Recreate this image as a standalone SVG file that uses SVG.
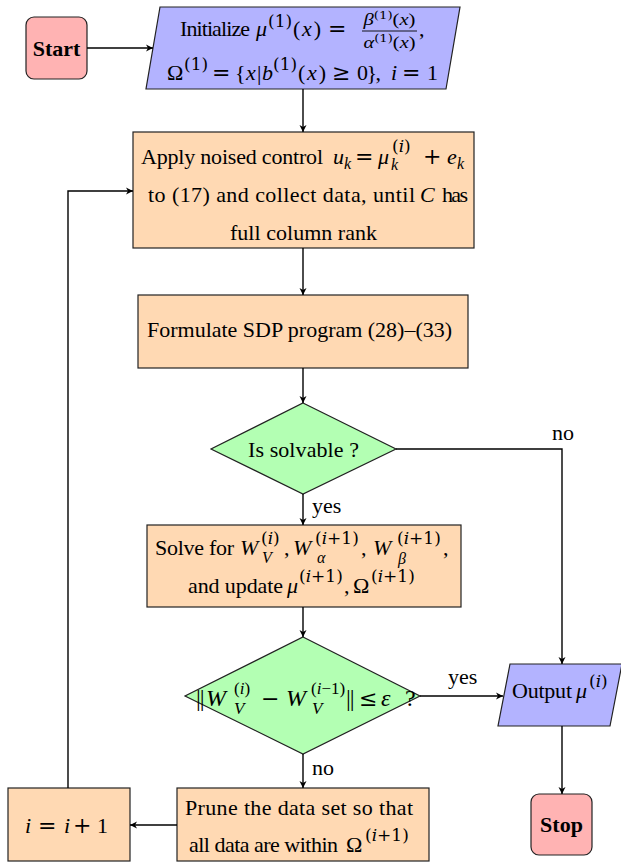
<svg xmlns="http://www.w3.org/2000/svg" width="621" height="863" viewBox="0 0 621 863">
<defs>
<style>
text{font-family:"Liberation Serif","Times New Roman",serif;font-size:22px;fill:#000}
.i{font-style:italic}
.s{font-size:16px}
.sp{font-family:"DejaVu Serif",serif;font-size:17px}
.op{font-family:"DejaVu Serif",serif;font-size:22px}
.f{font-size:17px}
.fs{font-family:"DejaVu Serif",serif;font-size:11px}
.m{font-size:24px}
.ms{font-size:17px}
.b{font-weight:bold}
.node{stroke:#222;stroke-width:1.2}
.start{fill:#FFB3B3}
.io{fill:#B3B3FF}
.proc{fill:#FFD9B3}
.dec{fill:#B3FFB3}
.conn path{fill:none;stroke:#000;stroke-width:1.4}
</style>
<marker id="ah" viewBox="-8 -4 9 8" refX="0" refY="0" markerWidth="9" markerHeight="8" markerUnits="userSpaceOnUse" orient="auto">
<path d="M-7,-3.5 L0,0 L-7,3.5 L-5,0 Z" fill="#000"/>
</marker>
</defs>
<rect width="621" height="863" fill="#fff"/>

<g id="start">
<rect class="node start" x="26" y="17" width="61" height="62" rx="8"/>
<text class="b" x="56.5" y="56" text-anchor="middle">Start</text>
</g>

<g id="init">
<polygon class="node io" points="160,7 460,7 446,89 146,89"/>
<text x="180" y="36" textLength="70">Initialize</text>
<text class="i" x="256" y="36">μ</text>
<text class="sp" x="268" y="27">(1)</text>
<text x="293" y="36" textLength="28">(<tspan class="i">x</tspan>)</text>
<text class="op" x="328" y="36">=</text>
<text class="f" x="389.5" y="25" text-anchor="middle" textLength="52" lengthAdjust="spacingAndGlyphs"><tspan class="i">β</tspan><tspan class="fs" dy="-6">(1)</tspan><tspan dy="6">(<tspan class="i">x</tspan>)</tspan></text>
<line x1="362" y1="31" x2="417" y2="31" stroke="#000" stroke-width="0.9"/>
<text class="f" x="389.5" y="48" text-anchor="middle" textLength="52" lengthAdjust="spacingAndGlyphs"><tspan class="i">α</tspan><tspan class="fs" dy="-6">(1)</tspan><tspan dy="6">(<tspan class="i">x</tspan>)</tspan></text>
<text x="419" y="36">,</text>
<text x="167" y="80">Ω</text>
<text class="sp" x="184" y="70">(1)</text>
<text class="op" x="212" y="80">=</text>
<text x="235" y="80">{</text>
<text class="i" x="246" y="80">x</text>
<text x="257" y="80">|</text>
<text class="i" x="262" y="80">b</text>
<text class="sp" x="273" y="70">(1)</text>
<text x="298" y="80" textLength="28">(<tspan class="i">x</tspan>)</text>
<text class="op" x="332" y="80">≥</text>
<text x="357" y="80" textLength="24">0},</text>
<text class="i" x="391" y="80">i</text>
<text class="op" x="402" y="80">=</text>
<text x="427" y="80">1</text>
</g>

<g id="apply">
<rect class="node proc" x="133" y="132" width="341" height="116"/>
<text x="141" y="164" textLength="182">Apply noised control</text>
<text class="i" x="333" y="164">u</text>
<text class="i s" x="344" y="169">k</text>
<text class="op" x="355" y="164">=</text>
<text class="i" x="378" y="164">μ</text>
<text class="sp" x="392" y="152">(<tspan class="i">i</tspan>)</text>
<text class="i s" x="391" y="170">k</text>
<text class="op" x="423" y="164">+</text>
<text class="i" x="447" y="164">e</text>
<text class="i s" x="457" y="169">k</text>
<text x="148" y="202" textLength="267">to (17) and collect data, until</text>
<text class="i" x="420" y="202">C</text>
<text x="442" y="202" textLength="26">has</text>
<text x="230" y="240" textLength="147">full column rank</text>
</g>

<g id="formulate">
<rect class="node proc" x="138" y="295" width="330" height="73"/>
<text x="147" y="337" textLength="305">Formulate SDP program (28)–(33)</text>
</g>

<g id="solvable">
<polygon class="node dec" points="303,403 396,449 303,494 211,449"/>
<text x="248" y="457" textLength="111">Is solvable ?</text>
</g>

<g id="solve">
<rect class="node proc" x="147" y="525" width="314" height="82"/>
<text x="155" y="555" textLength="79">Solve for</text>
<text class="i" x="240" y="555">W</text>
<text class="sp" x="261" y="544">(<tspan class="i">i</tspan>)</text>
<text class="i s" x="262" y="563">V</text>
<text x="284" y="555">,</text>
<text class="i" x="293" y="555">W</text>
<text class="sp" x="315" y="544">(<tspan class="i">i</tspan>+1)</text>
<text class="i s" x="317" y="563">α</text>
<text x="361" y="555">,</text>
<text class="i" x="373" y="555">W</text>
<text class="sp" x="397" y="544">(<tspan class="i">i</tspan>+1)</text>
<text class="i s" x="398" y="564">β</text>
<text x="443" y="555">,</text>
<text x="188" y="593" textLength="95">and update</text>
<text class="i" x="287" y="593">μ</text>
<text class="sp" x="299" y="582">(<tspan class="i">i</tspan>+1)</text>
<text x="344" y="593">,</text>
<text x="353" y="593">Ω</text>
<text class="sp" x="371" y="582">(<tspan class="i">i</tspan>+1)</text>
</g>

<g id="converged">
<polygon class="node dec" points="303,637 420,696 303,754 185,696"/>
<text class="m" x="196" y="706" letter-spacing="-1">||</text>
<text class="m i" x="206" y="706">W</text>
<text class="ms" x="234" y="694">(<tspan class="i">i</tspan>)</text>
<text class="ms i" x="234" y="714">V</text>
<text class="op" x="261" y="706">−</text>
<text class="m i" x="286" y="706">W</text>
<text class="ms" x="311" y="694">(<tspan class="i">i</tspan>−1)</text>
<text class="ms i" x="312" y="714">V</text>
<text class="m" x="346" y="706" letter-spacing="-1">||</text>
<text class="op" x="359" y="706">≤</text>
<text class="m i" x="381" y="706">ε</text>
<text class="m" x="405" y="706">?</text>
</g>

<g id="output">
<polygon class="node io" points="510,664 622,664 610,726 498,726"/>
<text x="512" y="698" textLength="60">Output</text>
<text class="i" x="576" y="698">μ</text>
<text class="sp" x="589" y="687">(<tspan class="i">i</tspan>)</text>
</g>

<g id="stop">
<rect class="node start" x="531" y="794" width="61" height="61" rx="8"/>
<text class="b" x="561.5" y="832" text-anchor="middle">Stop</text>
</g>

<g id="prune">
<rect class="node proc" x="177" y="788" width="252" height="73"/>
<text x="185" y="815" textLength="228">Prune the data set so that</text>
<text x="189" y="852" textLength="149">all data are within</text>
<text x="346" y="852">Ω</text>
<text class="sp" x="365" y="841">(<tspan class="i">i</tspan>+1)</text>
</g>

<g id="increment">
<rect class="node proc" x="8" y="788" width="122" height="73"/>
<text class="i" x="25" y="833">i</text>
<text class="op" x="38" y="833">=</text>
<text class="i" x="64" y="833">i</text>
<text class="op" x="73" y="833">+</text>
<text x="97" y="833">1</text>
</g>

<g id="connectors" class="conn">
<path d="M87,48 H153" marker-end="url(#ah)"/>
<path d="M303,89 V132" marker-end="url(#ah)"/>
<path d="M303,248 V295" marker-end="url(#ah)"/>
<path d="M303,368 V403" marker-end="url(#ah)"/>
<path d="M303,494 V525" marker-end="url(#ah)"/>
<path d="M396,449 H562 V664" marker-end="url(#ah)"/>
<path d="M303,607 V637" marker-end="url(#ah)"/>
<path d="M420,696 H503" marker-end="url(#ah)"/>
<path d="M303,754 V788" marker-end="url(#ah)"/>
<path d="M177,825 H130" marker-end="url(#ah)"/>
<path d="M68,788 V191 H133" marker-end="url(#ah)"/>
<path d="M562,726 V794" marker-end="url(#ah)"/>
<text x="312" y="513">yes</text>
<text x="552" y="440">no</text>
<text x="448" y="684">yes</text>
<text x="312" y="775">no</text>
</g>
</svg>
